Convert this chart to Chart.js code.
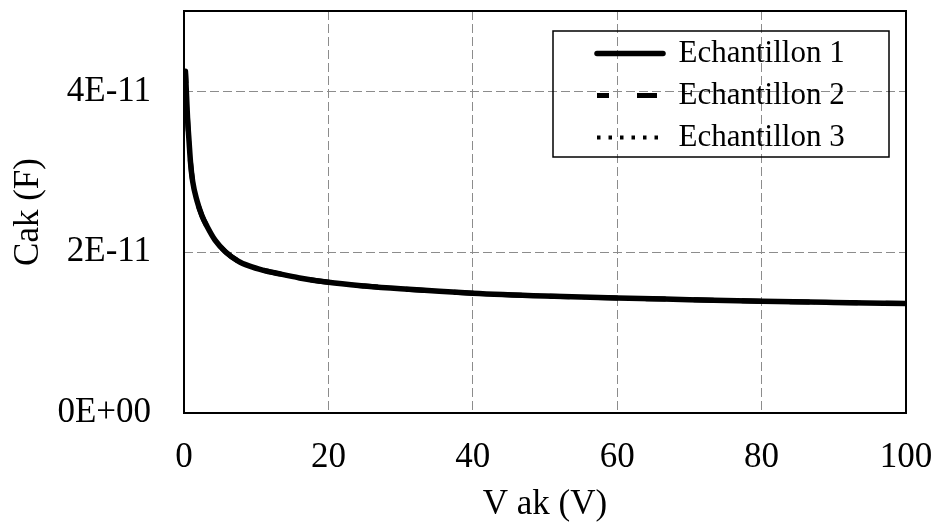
<!DOCTYPE html>
<html>
<head>
<meta charset="utf-8">
<script src="https://cdn.jsdelivr.net/npm/chart.js@4.4.1/dist/chart.umd.min.js"></script>
<style>
  body { margin: 0; background: #fff; }
  canvas { display: block; }
</style>
</head>
<body>
<canvas id="cakChart" width="936" height="522"></canvas>
<script>
// V ak (V) sample positions
const vak = [0.2, 0.35, 0.5, 0.7, 0.9, 1.2, 1.8, 2.5, 3.2, 4.3, 5.8, 7.5, 9, 11, 13, 16, 20, 25, 30, 40, 50, 60, 70, 80, 90, 100];
// Cak (F) - the three samples overlap on the picture
const cak1 = [4.25e-11, 3.95e-11, 3.65e-11, 3.38e-11, 3.12e-11, 2.88e-11, 2.64e-11, 2.45e-11, 2.32e-11, 2.15e-11, 2.0e-11, 1.89e-11, 1.83e-11, 1.775e-11, 1.735e-11, 1.68e-11, 1.625e-11, 1.58e-11, 1.545e-11, 1.49e-11, 1.455e-11, 1.43e-11, 1.41e-11, 1.39e-11, 1.375e-11, 1.362e-11];
const cak2 = [4.25e-11, 3.95e-11, 3.65e-11, 3.38e-11, 3.12e-11, 2.88e-11, 2.64e-11, 2.45e-11, 2.32e-11, 2.15e-11, 2.0e-11, 1.89e-11, 1.83e-11, 1.775e-11, 1.735e-11, 1.68e-11, 1.625e-11, 1.58e-11, 1.545e-11, 1.49e-11, 1.455e-11, 1.43e-11, 1.41e-11, 1.39e-11, 1.375e-11, 1.362e-11];
const cak3 = [4.25e-11, 3.95e-11, 3.65e-11, 3.38e-11, 3.12e-11, 2.88e-11, 2.64e-11, 2.45e-11, 2.32e-11, 2.15e-11, 2.0e-11, 1.89e-11, 1.83e-11, 1.775e-11, 1.735e-11, 1.68e-11, 1.625e-11, 1.58e-11, 1.545e-11, 1.49e-11, 1.455e-11, 1.43e-11, 1.41e-11, 1.39e-11, 1.375e-11, 1.362e-11];
const seriesNames = ["Echantillon 1", "Echantillon 2", "Echantillon 3"];
const xTicks = [0, 20, 40, 60, 80, 100];
const yTicks = [0, 2e-11, 4e-11];

const serif = "'Liberation Serif', 'Times New Roman', serif";
Chart.defaults.font.family = serif;
Chart.defaults.color = "#000";

// Excel style "0E+00"
const sci = (v) => {
  const [m, e] = v.toExponential(0).toUpperCase().split("E");
  return m + "E" + e[0] + e.slice(1).padStart(2, "0");
};

const toPoints = (ys) => vak.map((x, i) => ({ x: x, y: ys[i] }));

// black frame round the plot area
const frame = {
  id: "frame",
  beforeDatasetsDraw(chart) {
    const { ctx, chartArea: a } = chart;
    ctx.save();
    ctx.strokeStyle = "#000";
    ctx.lineWidth = 2;
    ctx.strokeRect(a.left, a.top, a.right - a.left, a.bottom - a.top);
    ctx.restore();
  }
};

// move the legend into the top right corner and draw its box
const legendBox = {
  id: "legendBox",
  beforeDraw(chart) {
    const lg = chart.legend;
    const a = chart.chartArea;
    lg.left = a.right - 320;
    lg.right = a.right - 17;
    lg.top = a.top + 16;
    lg.bottom = a.top + 260;
    lg.width = lg.right - lg.left;
    lg.height = lg.bottom - lg.top;
  },
  afterDraw(chart) {
    const { ctx, chartArea: a } = chart;
    ctx.save();
    ctx.strokeStyle = "#000";
    ctx.lineWidth = 1.5;
    ctx.strokeRect(a.right - 353, a.top + 20, 336, 126);
    ctx.restore();
  }
};

const gridStyle = { color: "#8c8c8c", lineWidth: 1, drawTicks: false };

new Chart(document.getElementById("cakChart"), {
  type: "line",
  data: {
    datasets: [
      {
        label: seriesNames[0],
        data: toPoints(cak1),
        borderColor: "#000",
        backgroundColor: "#000",
        borderWidth: 5.5,
        borderCapStyle: "round"
      },
      {
        label: seriesNames[1],
        data: toPoints(cak2),
        borderColor: "#000",
        backgroundColor: "#000",
        borderWidth: 5,
        borderDash: [20, 28],
        borderDashOffset: 8
      },
      {
        label: seriesNames[2],
        data: toPoints(cak3),
        borderColor: "#000",
        backgroundColor: "#000",
        borderWidth: 4,
        borderDash: [3.5, 8],
        borderCapStyle: "butt"
      }
    ]
  },
  options: {
    responsive: false,
    animation: false,
    devicePixelRatio: 1,
    layout: { padding: { left: 0, right: 30, top: 11, bottom: 0 } },
    elements: {
      point: { radius: 0 },
      line: { cubicInterpolationMode: "monotone" }
    },
    plugins: {
      tooltip: { enabled: false },
      legend: {
        position: "chartArea",
        align: "start",
        labels: {
          font: { family: serif, size: 31 },
          color: "#000",
          padding: 11,
          usePointStyle: true,
          pointStyleWidth: 66,
          generateLabels: (chart) =>
            chart.data.datasets.map((ds, i) => ({
              text: ds.label,
              fontColor: "#000",
              fillStyle: ds.borderColor,
              strokeStyle: ds.borderColor,
              lineWidth: ds.borderWidth,
              lineDash: ds.borderDash || [],
              lineDashOffset: ds.borderDashOffset || 0,
              lineCap: ds.borderCapStyle || "butt",
              pointStyle: "line",
              hidden: false,
              datasetIndex: i
            }))
        }
      }
    },
    scales: {
      x: {
        type: "linear",
        min: 0,
        max: 100,
        afterBuildTicks: (axis) => { axis.ticks = xTicks.map((v) => ({ value: v })); },
        afterFit: (axis) => { axis.paddingRight = 0; axis.height = 109; },
        grid: gridStyle,
        border: { display: false, dash: [9, 4] },
        ticks: { font: { size: 35 }, padding: 24, maxRotation: 0 },
        title: {
          display: true,
          text: "V ak (V)",
          font: { size: 35, lineHeight: 1 },
          padding: { top: 8, bottom: 0 }
        }
      },
      y: {
        type: "linear",
        min: 0,
        max: 5e-11,
        afterBuildTicks: (axis) => { axis.ticks = yTicks.map((v) => ({ value: v })); },
        afterFit: (axis) => { axis.paddingTop = 0; axis.width = 184; },
        grid: gridStyle,
        border: { display: false, dash: [9, 4] },
        ticks: { font: { size: 35 }, padding: 33, callback: (v) => sci(v) },
        title: {
          display: true,
          text: "Cak (F)",
          font: { size: 35, lineHeight: 1 },
          padding: { top: 11, bottom: 11 }
        }
      }
    }
  },
  plugins: [frame, legendBox]
});
</script>
</body>
</html>
